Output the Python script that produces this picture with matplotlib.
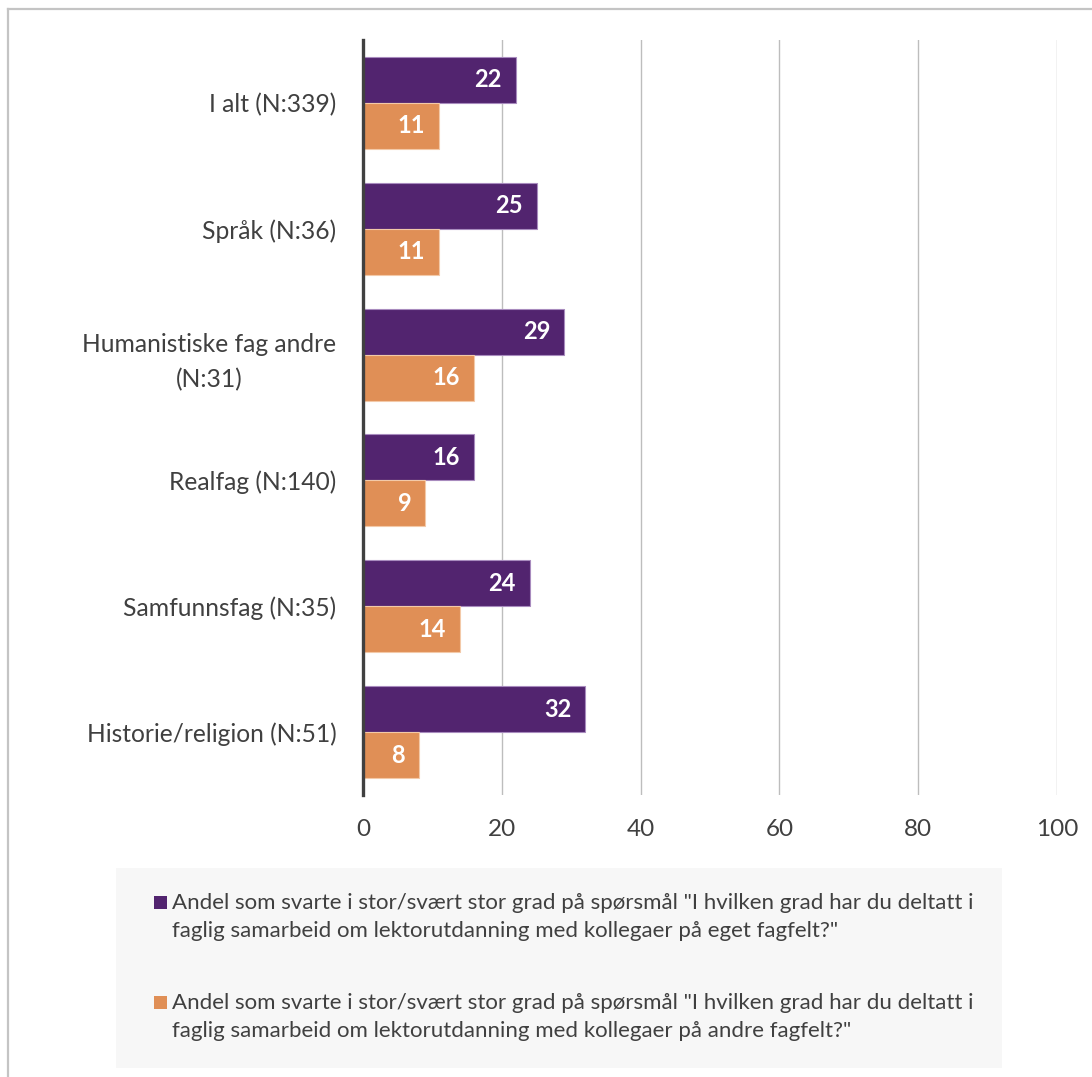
import matplotlib.pyplot as plt
from matplotlib.patches import Rectangle
from matplotlib.lines import Line2D

plt.rcParams['font.family'] = ['Lato', 'DejaVu Sans']

kategorier = ["I alt (N:339)", "Språk (N:36)", "Humanistiske fag andre\n(N:31)",
              "Realfag (N:140)", "Samfunnsfag (N:35)", "Historie/religion (N:51)"]
eget_fagfelt = [22, 25, 29, 16, 24, 32]
andre_fagfelt = [11, 11, 16, 9, 14, 8]
etiketter = [
    "Andel som svarte i stor/svært stor grad på spørsmål \"I hvilken grad har du deltatt i\n"
    "faglig samarbeid om lektorutdanning med kollegaer på eget fagfelt?\"",
    "Andel som svarte i stor/svært stor grad på spørsmål \"I hvilken grad har du deltatt i\n"
    "faglig samarbeid om lektorutdanning med kollegaer på andre fagfelt?\"",
]
lilla = "#52246F"
oransje = "#E08F56"
tekstfarge = "#404040"

fig = plt.figure(figsize=(10.92, 10.77), dpi=100)
ax = fig.add_axes([363 / 1092, 1 - 795 / 1077, (1057 - 363) / 1092, (795 - 40) / 1077])

h = 0.366
y = list(range(len(kategorier)))
b1 = ax.barh([i - h / 2 for i in y], eget_fagfelt, height=h, color=lilla,
             edgecolor="#A88BBE", linewidth=0.8, zorder=3)
b2 = ax.barh([i + h / 2 for i in y], andre_fagfelt, height=h, color=oransje,
             edgecolor="#F3C9A8", linewidth=0.8, zorder=3)

for bars, verdier in ((b1, eget_fagfelt), (b2, andre_fagfelt)):
    for bar, v in zip(bars, verdier):
        ax.annotate(str(v), (bar.get_width(), bar.get_y() + bar.get_height() / 2),
                    xytext=(-10, 0), textcoords="offset points", ha="right", va="center",
                    color="white", fontsize=17, fontweight="bold", zorder=4)

ax.set_xlim(0, 100)
ax.set_ylim(len(kategorier) - 0.5, -0.5)
ax.set_xticks(range(0, 101, 20))
ax.set_yticks(y)
ax.set_yticklabels(kategorier, multialignment="center", linespacing=1.6)
ax.tick_params(axis="x", length=0, pad=17, labelsize=17.5, labelcolor=tekstfarge)
ax.tick_params(axis="y", length=0, pad=19, labelsize=17.7, labelcolor=tekstfarge)
ax.grid(axis="x", color="#BDBDBD", linewidth=1, zorder=0)
for s in ("top", "right", "bottom"):
    ax.spines[s].set_visible(False)
ax.spines["left"].set_color("#404040")
ax.spines["left"].set_linewidth(2.4)
ax.spines["left"].set_zorder(5)

# forklaring
fig.patches.append(Rectangle((116 / 1092, 1 - 1068 / 1077), 886 / 1092, 200 / 1077,
                             transform=fig.transFigure, facecolor="#F7F7F7",
                             edgecolor="none", zorder=0))
for farge, tekst, ylinje in ((lilla, etiketter[0], 902), (oransje, etiketter[1], 1002)):
    fig.patches.append(Rectangle((154 / 1092, 1 - (ylinje + 6.5) / 1077), 13 / 1092, 13 / 1077,
                                 transform=fig.transFigure, facecolor=farge,
                                 edgecolor="none", zorder=1))
    fig.text(172 / 1092, 1 - (ylinje + 15) / 1077, tekst, ha="left", va="center",
             fontsize=16, color=tekstfarge, linespacing=1.55)

# ramme
fig.add_artist(Line2D([8 / 1092, 8 / 1092], [0, 1 - 9 / 1077], transform=fig.transFigure,
                      color="#C4C4C4", linewidth=1.6))
fig.add_artist(Line2D([8 / 1092, 1], [1 - 9 / 1077, 1 - 9 / 1077], transform=fig.transFigure,
                      color="#C4C4C4", linewidth=1.6))

fig.savefig("out.png", dpi=100)
